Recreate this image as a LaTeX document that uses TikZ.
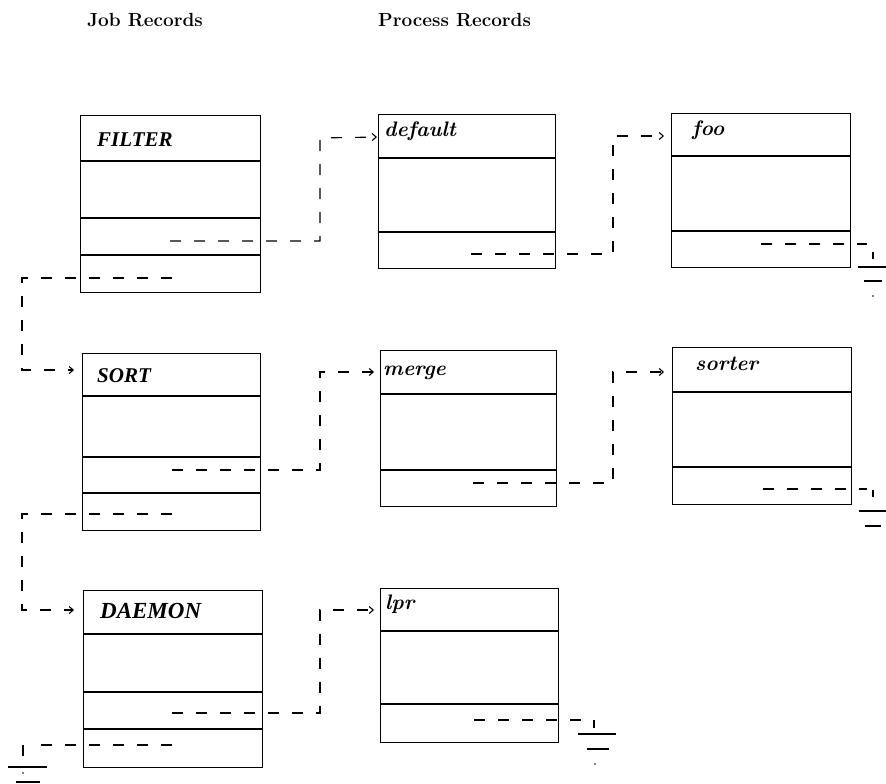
\documentclass[tikz,border=0pt]{standalone}
\usepackage{fontspec}
\newfontfamily\capsfont{Liberation Serif}
\usetikzlibrary{arrows.meta}
\begin{document}
\begin{tikzpicture}[x=1pt,y=-1pt,
  rec/.style={draw, line width=1.2pt, inner sep=0pt, anchor=north west},
  div/.style={line width=1.1pt},
  lbl/.style={anchor=base west, inner sep=0pt, font=\capsfont\fontsize{21}{24}\selectfont\bfseries\itshape},
  plbl/.style={anchor=base west, inner sep=0pt, font=\fontsize{21}{24}\selectfont\bfseries\itshape},
  ttl/.style={anchor=base west, inner sep=0pt, font=\fontsize{19}{22}\selectfont\bfseries},
  link/.style={line width=1.1pt, dash pattern=on 11pt off 13pt},
  tip/.style={-{Straight Barb[length=4pt,width=7pt]}},
  gnd/.style={line width=1.2pt}]
\useasboundingbox (0,0) rectangle (886,784);
\clip (0,0) rectangle (886,784);

% titles
\node[ttl] (tjob) at (87,27) {Job Records};
\node[ttl] (tproc) at (378,27) {Process Records};

% ---- job records
\node[rec, minimum width=180pt, minimum height=177pt] (filter) at (80,115) {};
\draw[div] (80,161) -- (260,161) (80,218) -- (260,218) (80,255) -- (260,255);
\node[lbl] (filterl) at (97,146) {FILTER};

\node[rec, minimum width=178pt, minimum height=177pt] (sort) at (82,353) {};
\draw[div] (82,396) -- (260,396) (82,457) -- (260,457) (82,493) -- (260,493);
\node[lbl] (sortl) at (97,382) {SORT};

\node[rec, minimum width=179pt, minimum height=177pt] (daemon) at (83,590) {};
\draw[div] (83,634) -- (262,634) (83,692) -- (262,692) (83,729) -- (262,729);
\node[lbl, font=\capsfont\fontsize{23}{26}\selectfont\bfseries\itshape] (daemonl) at (100,618) {DAEMON};

% ---- process records
\node[rec, minimum width=177pt, minimum height=154pt] (default) at (378,114) {};
\draw[div] (378,158) -- (555,158) (378,232) -- (555,232);
\node[plbl] (defaultl) at (384,136) {default};

\node[rec, minimum width=179pt, minimum height=154pt] (foo) at (671,113) {};
\draw[div] (671,156) -- (850,156) (671,231) -- (850,231);
\node[plbl] (fool) at (692,135) {foo};

\node[rec, minimum width=176pt, minimum height=156pt] (merge) at (380,350) {};
\draw[div] (380,394) -- (556,394) (380,470) -- (556,470);
\node[plbl] (mergel) at (383,375) {merge};

\node[rec, minimum width=179pt, minimum height=157pt] (sorter) at (672,347) {};
\draw[div] (672,392) -- (851,392) (672,467) -- (851,467);
\node[plbl] (sorterl) at (695,370) {sorter};

\node[rec, minimum width=178pt, minimum height=154pt] (lpr) at (380,588) {};
\draw[div] (380,631) -- (558,631) (380,704) -- (558,704);
\node[plbl] (lprl) at (385,609) {lpr};

% ---- link coordinates
\coordinate (fs1) at (170,241); \coordinate (k1) at (320,138); \coordinate (din) at (377,137);
\coordinate (fs2) at (172,278); \coordinate (k2) at (22,370);  \coordinate (sin) at (74,370);
\coordinate (ds1) at (471,254); \coordinate (k3) at (613,136); \coordinate (foin) at (664,136);
\coordinate (ss1) at (172,470); \coordinate (k4) at (320,372); \coordinate (min) at (374,372);
\coordinate (ss2) at (172,514); \coordinate (k5) at (22,610);  \coordinate (dain) at (74,610);
\coordinate (ms1) at (473,483); \coordinate (k6) at (613,372); \coordinate (soin) at (664,372);
\coordinate (das1) at (172,713); \coordinate (k7) at (320,610); \coordinate (lin) at (374,610);

\draw[link,tip] (fs1) -| (k1) -- (din);
\draw[link,tip] (fs2) -| (k2) -- (sin);
\draw[link,tip] (ds1) -| (k3) -- (foin);
\draw[link,tip] (ss1) -| (k4) -- (min);
\draw[link,tip] (ss2) -| (k5) -- (dain);
\draw[link,tip] (ms1) -| (k6) -- (soin);
\draw[link,tip] (das1) -| (k7) -- (lin);

% ---- nil links with ground symbols
\coordinate (fos) at (761,244); \coordinate (foe) at (867,244); \coordinate (fog) at (873,252);
\draw[link] (fos) -- (foe);
\draw[gnd] (fog) -- ++(0,7);
\draw[gnd] ([shift={(-15,15)}]fog) -- ++(30,0);
\draw[gnd] ([shift={(-9,29)}]fog) -- ++(18,0);
\fill ([shift={(0,44)}]fog) circle (0.8pt);

\coordinate (sos) at (763,489); \coordinate (soe) at (867,489); \coordinate (sog) at (873,490);
\draw[link] (sos) -- (soe);
\draw[gnd] (sog) -- ++(0,7);
\draw[gnd] ([shift={(-14,21)}]sog) -- ++(28,0);
\draw[gnd] ([shift={(-8,36)}]sog) -- ++(16,0);

\coordinate (ls) at (474,720); \coordinate (le) at (587,720); \coordinate (lg) at (594,720);
\draw[link] (ls) -- (le);
\draw[gnd] (lg) -- ++(0,8);
\draw[gnd] ([shift={(-16,14)}]lg) -- ++(38,0);
\draw[gnd] ([shift={(-7,29)}]lg) -- ++(22,0);
\fill ([shift={(1,44)}]lg) circle (0.8pt);

\coordinate (das2) at (172,745); \coordinate (dae) at (35,745); \coordinate (dag) at (23,745);
\draw[link] (das2) -- (dae);
\draw[gnd] (dag) -- ++(0,11);
\draw[gnd] ([shift={(-15,22)}]dag) -- ++(39,0);
\fill ([shift={(0,28)}]dag) circle (0.8pt);
\draw[gnd] ([shift={(-7,37)}]dag) -- ++(24,0);
\end{tikzpicture}
\end{document}
